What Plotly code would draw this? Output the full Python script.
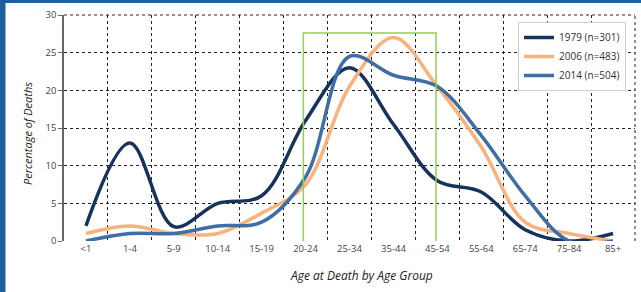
import plotly.graph_objects as go

categories = ["<1", "1-4", "5-9", "10-14", "15-19", "20-24", "25-34",
              "35-44", "45-54", "55-64", "65-74", "75-84", "85+"]
y1979 = [2, 13, 1.9, 5, 6, 16, 23, 15.5, 8, 6.5, 1.5, 0, 1]
y2006 = [1, 2, 1, 1, 3.7, 7.5, 20.5, 27, 20.5, 12.5, 2.5, 1, 0]
y2014 = [0, 1, 1, 2, 2.5, 8.5, 24.5, 22, 20.5, 14, 6, 0, 0]
series_names = ["1979 (n=301)", "2006 (n=483)", "2014 (n=504)"]
y_ticks = [0, 5, 10, 15, 20, 25, 30]

colors = ["#17335c", "#f9b27c", "#3e6ea3"]

fig = go.Figure()
for name, vals, col in zip(series_names, [y1979, y2006, y2014], colors):
    fig.add_trace(go.Scatter(
        x=categories, y=vals, name=name, mode="lines",
        line=dict(color=col, width=3.5, shape="spline", smoothing=1.0),
    ))

W, H = 641, 292
L, R, T, B = 64, 6, 15, 51
pw, ph = W - L - R, H - T - B

def px_x(p):
    return (p - L) / pw

def px_y(p):
    return (H - B - p) / ph

fig.update_layout(
    width=W, height=H,
    margin=dict(l=L, r=R, t=T, b=B),
    paper_bgcolor="white", plot_bgcolor="white",
    font=dict(family="Open Sans", color="#333333", size=10),
    showlegend=True,
    legend=dict(
        x=px_x(518), y=px_y(22), xanchor="left", yanchor="top",
        bgcolor="white", bordercolor="#cfcfcf", borderwidth=1,
        font=dict(size=10, color="#333333"),
        itemwidth=30, tracegroupgap=3,
    ),
    xaxis=dict(
        type="category", range=[-0.5, 12.5], tickson="boundaries",
        showgrid=True, griddash="dot", gridcolor="#222222", gridwidth=1,
        ticks="outside", ticklen=7, tickcolor="rgba(0,0,0,0)",
        showline=False, zeroline=False,
        tickfont=dict(size=9.5, color="#444444"),
        fixedrange=True,
    ),
    yaxis=dict(
        range=[0, 30], tickvals=y_ticks,
        showgrid=True, griddash="dot", gridcolor="#222222", gridwidth=1,
        showline=True, linecolor="#666666", linewidth=1.5,
        ticks="outside", ticklen=4, tickcolor="#666666",
        zeroline=False, tickfont=dict(size=9.5, color="#444444"),
    ),
    shapes=[
        dict(type="rect", xref="x", yref="y", x0=4.95, x1=7.97, y0=-0.35, y1=27.6,
             line=dict(color="#92d050", width=1.5), fillcolor="rgba(0,0,0,0)"),
        dict(type="line", xref="paper", yref="paper", x0=1, x1=1, y0=0, y1=1,
             line=dict(color="#222222", width=1, dash="dot")),
        dict(type="line", xref="paper", yref="paper", x0=0, x1=1, y0=1, y1=1,
             line=dict(color="#222222", width=1, dash="dot")),
        dict(type="rect", xref="paper", yref="paper", x0=px_x(0), x1=px_x(5.5),
             y0=px_y(H), y1=px_y(0), line=dict(width=0), fillcolor="#1b5f9e"),
        dict(type="rect", xref="paper", yref="paper", x0=px_x(0), x1=px_x(W),
             y0=px_y(3), y1=px_y(0), line=dict(width=0), fillcolor="#1b5f9e"),
    ],
    annotations=[
        dict(text="<i>Percentage of Deaths</i>", xref="paper", yref="paper",
             x=px_x(27), y=px_y(134), textangle=-90, showarrow=False,
             font=dict(size=11, color="#222222"), xanchor="center", yanchor="middle"),
        dict(text="<i>Age at Death by Age Group</i>", xref="paper", yref="paper",
             x=px_x(361), y=px_y(275), showarrow=False,
             font=dict(size=12, color="#222222"), xanchor="center", yanchor="middle"),
    ],
)

fig.write_html(
    "out.html",
    config={"displayModeBar": False},
    post_script="document.body.style.margin='0';document.body.style.overflow='hidden';",
)
